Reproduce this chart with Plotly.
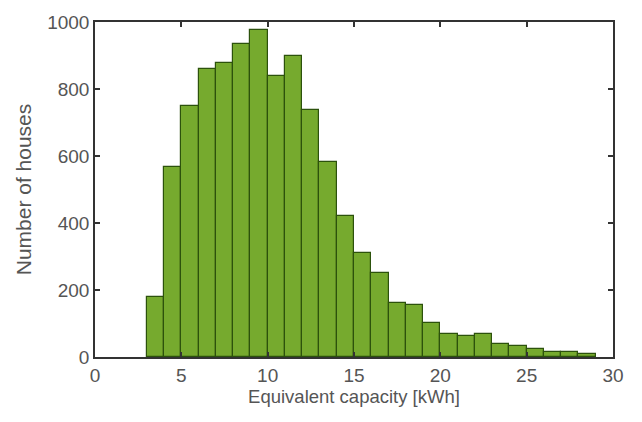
import plotly.graph_objects as go

bin_left = list(range(3, 29))
counts = [180, 568, 750, 861, 878, 933, 977, 838, 899, 736, 583, 420, 310,
          250, 160, 156, 102, 69, 64, 70, 40, 33, 25, 15, 14, 9]
x_ticks = [0, 5, 10, 15, 20, 25, 30]
y_ticks = [0, 200, 400, 600, 800, 1000]

centers = [b + 0.5 for b in bin_left]

fig = go.Figure(go.Bar(
    x=centers, y=counts, width=1,
    marker=dict(color="#76aa2e", line=dict(color="#2c520c", width=1.2)),
))

fam = "Liberation Sans, Arial, sans-serif"
tick_font = dict(family=fam, size=19, color="#555")
axis_common = dict(showline=True, linecolor="#333", linewidth=1.5, mirror="ticks",
                   ticks="inside", ticklen=5, tickcolor="#333", tickwidth=1.5,
                   showgrid=False, zeroline=False, tickfont=tick_font)

fig.update_layout(
    width=642, height=422,
    margin=dict(l=95, r=29, t=12, b=65),
    plot_bgcolor="white", paper_bgcolor="white",
    showlegend=False, bargap=0,
    xaxis=dict(range=[0, 30], tickvals=x_ticks, ticktext=[str(v) for v in x_ticks],
               title=dict(text="Equivalent capacity [kWh]",
                          font=dict(family=fam, size=18.5, color="#555"), standoff=6),
               **axis_common),
    yaxis=dict(range=[0, 1000], tickvals=y_ticks, ticktext=[str(v) for v in y_ticks],
               title=dict(text="Number of houses",
                          font=dict(family=fam, size=21, color="#555"), standoff=10),
               **axis_common),
)

fig.write_html("out.html")
